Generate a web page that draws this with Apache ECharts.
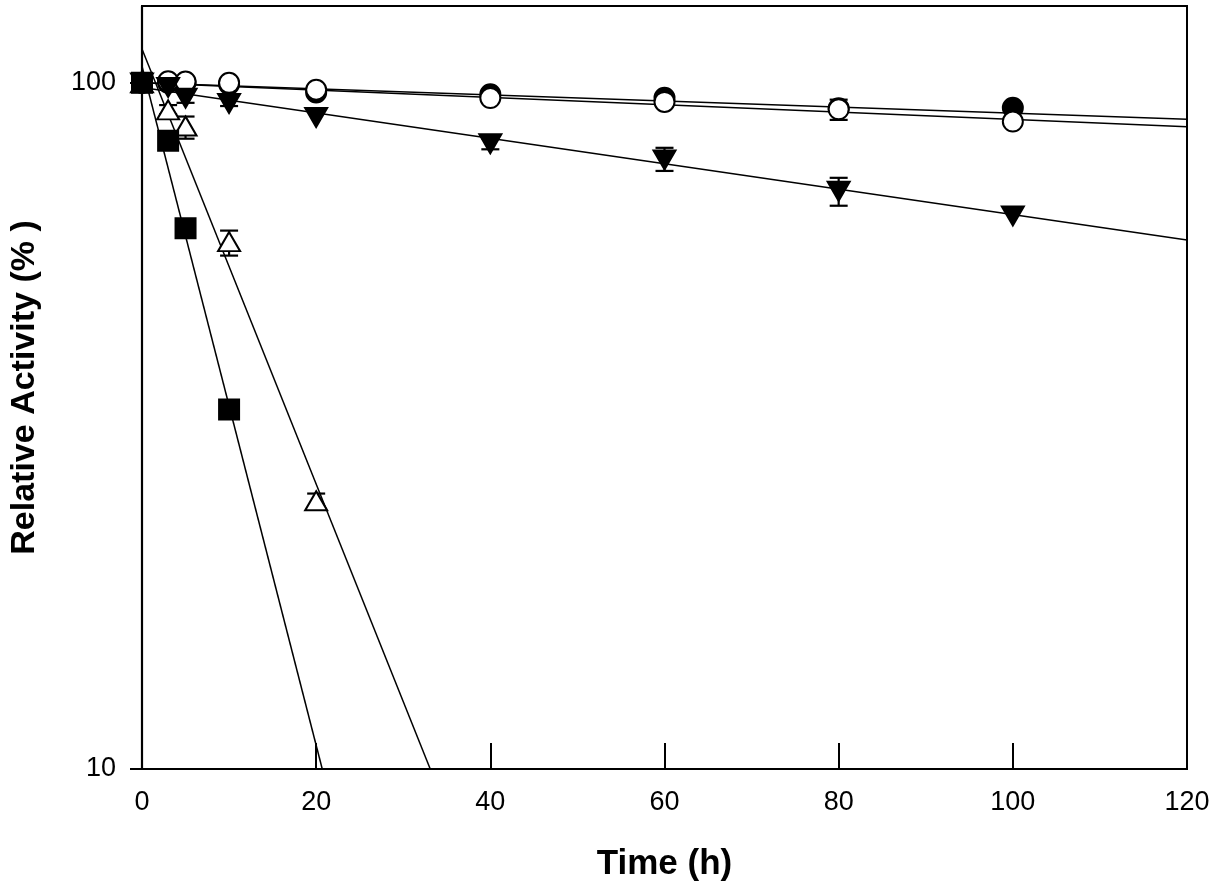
<!DOCTYPE html>
<html>
<head>
<meta charset="utf-8">
<script src="https://cdn.jsdelivr.net/npm/echarts@6/dist/echarts.min.js"></script>
<style>
    html, body { margin: 0; padding: 0; background: #fff; }
    #chart { width: 1217px; height: 892px; }
</style>
</head>
<body>
<div id="chart"></div>
<script>
// sampling times (h)
let timeAll = [0, 3, 5, 10, 20, 40, 60, 80, 100];
let timeShort = [0, 3, 5, 10, 20];
let timeSquare = [0, 3, 5, 10];

// relative activity (%)
let filledCircle = [100, 100, 100, 99.5, 96.8, 96.2, 95.1, 91.8, 92];
let openCircle = [100, 100.5, 100.4, 100, 97.7, 95.0, 93.8, 91.5, 87.8];
let filledTriangle = [100, 98.5, 95, 93.3, 89, 81.5, 77.2, 69.5, 64];
let openTriangle = [100, 91.3, 86.5, 58.7, 24.6];
let filledSquare = [100, 82.3, 61.4, 33.4];

// error bars [time, low, high]
let filledTriangleErr = [[5, 93.5, 97], [10, 92.5, 95.5], [40, 80, 83], [60, 74.4, 80.4], [80, 66.2, 72.7]];
let openCircleErr = [[40, 94, 96.5], [60, 92.5, 95.2], [80, 88.3, 94.5]];
let openTriangleErr = [[3, 90, 92.8], [5, 82.9, 89.3], [10, 56.0, 60.9], [20, 24.0, 25.2]];
let filledSquareErr = [[5, 60.5, 62.3], [10, 32.8, 34]];

// fitted lines, end points [time, activity]
let fitFilledCircle = [[0, 100], [120, 88.5]];
let fitOpenCircle = [[0, 100], [120, 86.3]];
let fitFilledTriangle = [[0, 98.4], [120, 59]];
let fitOpenTriangle = [[0, 112], [33.1, 10]];
let fitFilledSquare = [[0, 105.7], [20.7, 10]];

let xTicks = [0, 20, 40, 60, 80, 100, 120];
let yTicks = [10, 100];

let FONT = 'Liberation Sans, Arial, sans-serif';

function pairs(xs, ys) {
    return xs.map((x, i) => [x, ys[i]]);
}

function fitLine(data) {
    return {
        type: 'line',
        data: data,
        symbol: 'none',
        silent: true,
        z: 1,
        lineStyle: { color: '#000', width: 1.5 }
    };
}

function errBars(data) {
    return {
        type: 'custom',
        data: data,
        z: 2,
        silent: true,
        encode: { x: 0, y: [1, 2] },
        renderItem: function (params, api) {
            let lo = api.coord([api.value(0), api.value(1)]);
            let hi = api.coord([api.value(0), api.value(2)]);
            let w = 9;
            let st = { stroke: '#000', lineWidth: 2.2 };
            return {
                type: 'group',
                children: [
                    { type: 'line', shape: { x1: lo[0], y1: lo[1], x2: hi[0], y2: hi[1] }, style: st },
                    { type: 'line', shape: { x1: lo[0] - w, y1: lo[1], x2: lo[0] + w, y2: lo[1] }, style: st },
                    { type: 'line', shape: { x1: hi[0] - w, y1: hi[1], x2: hi[0] + w, y2: hi[1] }, style: st }
                ]
            };
        }
    };
}

function points(data, symbol, size, fill, rotate) {
    return {
        type: 'scatter',
        data: data,
        symbol: symbol,
        symbolSize: size,
        symbolRotate: rotate || 0,
        z: 3,
        itemStyle: { color: fill, borderColor: '#000', borderWidth: 2, opacity: 1 }
    };
}

let myChart = echarts.init(document.getElementById('chart'));
let option = {
    backgroundColor: '#fff',
    animation: false,
    grid: {
        left: 138,
        right: 30,
        top: 6,
        bottom: 123,
        show: true,
        borderColor: '#000',
        borderWidth: 2
    },
    xAxis: {
        type: 'value',
        min: 0,
        max: 120,
        interval: 20,
        name: 'Time (h)',
        nameLocation: 'middle',
        nameGap: 78,
        nameTextStyle: { fontFamily: FONT, fontSize: 35, fontWeight: 'bold', color: '#000' },
        axisLine: { lineStyle: { color: '#000', width: 2.2 } },
        axisTick: { inside: true, length: 26, lineStyle: { color: '#000', width: 2 } },
        axisLabel: { margin: 20, fontFamily: FONT, fontSize: 27, color: '#000',
            formatter: v => xTicks.indexOf(v) >= 0 ? String(v) : '' },
        splitLine: { show: false }
    },
    yAxis: {
        type: 'log',
        logBase: 10,
        min: 10,
        max: 129.4,
        name: 'Relative Activity (% )',
        nameLocation: 'middle',
        nameGap: 100,
        nameTextStyle: { fontFamily: FONT, fontSize: 34, fontWeight: 'bold', color: '#000' },
        axisLine: { show: true, lineStyle: { color: '#000', width: 2.2 } },
        axisTick: { show: true, length: 12, customValues: yTicks, lineStyle: { color: '#000', width: 2 } },
        axisLabel: { margin: 26, fontFamily: FONT, fontSize: 27, color: '#000', customValues: yTicks },
        minorTick: { show: false },
        splitLine: { show: false }
    },
    series: [
        fitLine(fitFilledCircle),
        fitLine(fitOpenCircle),
        fitLine(fitFilledTriangle),
        fitLine(fitOpenTriangle),
        fitLine(fitFilledSquare),
        errBars(filledTriangleErr),
        errBars(openCircleErr),
        errBars(openTriangleErr),
        errBars(filledSquareErr),
        points(pairs(timeAll, filledCircle), 'circle', 20, '#000'),
        points(pairs(timeAll, openCircle), 'circle', 20, '#fff'),
        points(pairs(timeAll, filledTriangle), 'triangle', [22, 19], '#000', 180),
        points(pairs(timeShort, openTriangle), 'triangle', [22, 19], '#fff'),
        points(pairs(timeSquare, filledSquare), 'rect', 20, '#000')
    ]
};
myChart.setOption(option);
</script>
</body>
</html>
